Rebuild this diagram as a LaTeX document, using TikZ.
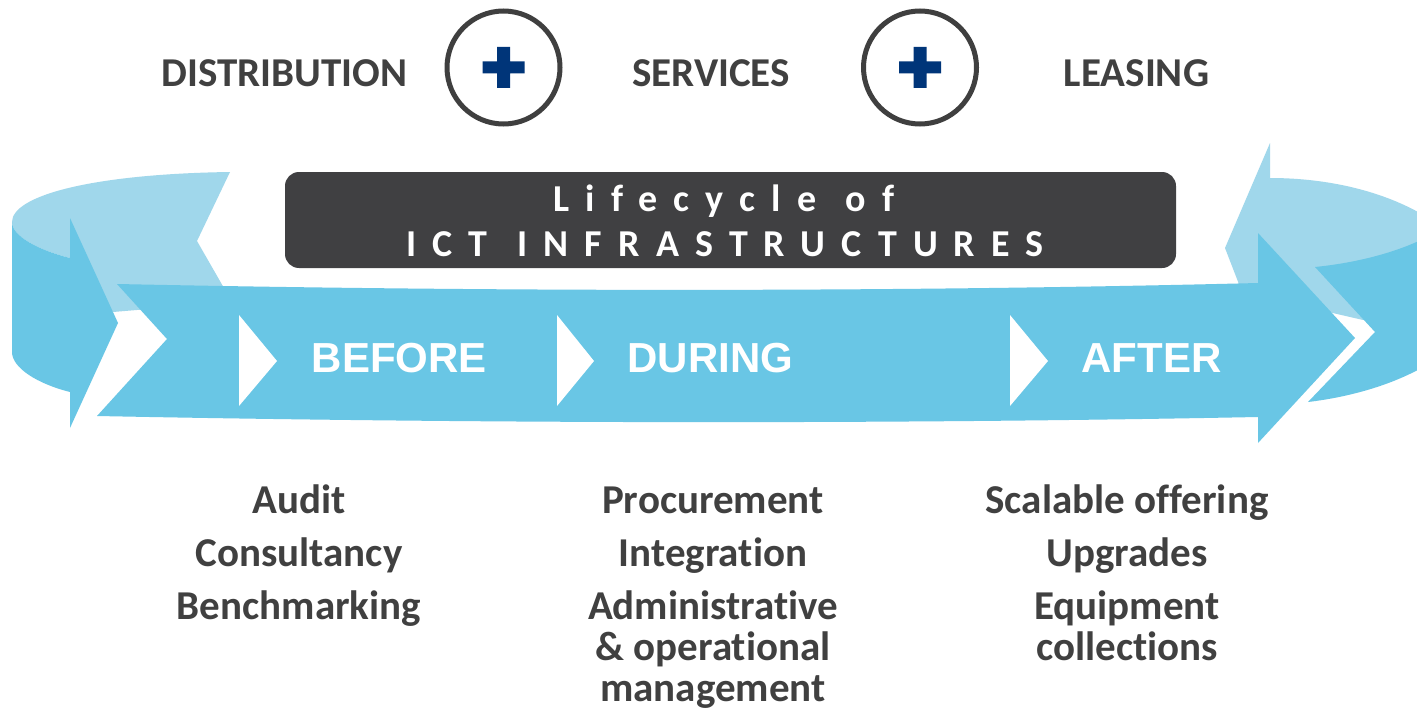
\documentclass[tikz,border=0pt]{standalone}
\usepackage{fontspec}
\setmainfont{Carlito}
\newfontfamily\itemfont[Ligatures=NoCommon]{Carlito}
\newfontfamily\trackfont[LetterSpace=42.5,Ligatures=NoCommon]{Carlito}
\newfontfamily\stagefont{Liberation Sans}

\definecolor{ribbonfront}{HTML}{69C6E5}
\definecolor{ribbonback}{HTML}{A0D7EB}
\definecolor{boxgray}{HTML}{404042}
\definecolor{inkgray}{HTML}{404040}
\definecolor{ringgray}{HTML}{3F3F3F}
\definecolor{plusblue}{HTML}{003579}

\begin{document}
\begin{tikzpicture}[x=1pt,y=-1pt,
  itemtext/.style={font=\itemfont\bfseries\fontsize{41}{48}\selectfont,
    text=inkgray, anchor=base, inner sep=0pt},
  stagetext/.style={font=\stagefont\bfseries\fontsize{42}{48}\selectfont,
    text=white, anchor=base, inner sep=0pt},
  tracktext/.style={font=\trackfont\bfseries\fontsize{38}{45}\selectfont,
    text=white, anchor=base, inner sep=0pt},
  ring/.style={circle, draw=ringgray, line width=5pt, minimum size=113pt,
    inner sep=0pt},
  chevron/.style={fill=white},
]
\clip (0,0) rectangle (1417,709);
\fill[white] (0,0) rectangle (1417,709);

% back half of the ribbon, left end (tail notch)
\fill[ribbonback] (12,222) .. controls (12,196) and (90,174) .. (230,172)
  -- (197,241) -- (232,302) -- (113,312) -- (70,258)
  .. controls (38,250) and (12,236) .. (12,222) -- cycle;
% back half of the ribbon, right end (head pointing left)
\fill[ribbonback] (1270,143) -- (1225,248) -- (1242,292) -- (1363,320)
  -- (1425,300) -- (1425,216) .. controls (1385,192) and (1330,178) .. (1270,178)
  -- cycle;

% left side of the ring, ending in an arrow head
\fill[ribbonfront] (12,222) .. controls (12,236) and (38,250) .. (70,258)
  -- (70,218) -- (118,323) -- (70,428) -- (70,392)
  .. controls (38,384) and (12,368) .. (12,352) -- cycle;
% right side of the ring, notched tail
\fill[ribbonfront] (1315,267) .. controls (1355,263) and (1395,253) .. (1425,238)
  -- (1425,366) .. controls (1392,385) and (1350,397) .. (1308,402)
  -- (1375,332) -- cycle;

% front arrow
\fill[ribbonfront] (117,284) -- (167,339) -- (97,416)
  .. controls (500,424) and (900,424) .. (1258,417)
  -- (1258,443) -- (1355,338) -- (1258,233) -- (1258,283)
  .. controls (900,292) and (500,292) .. (117,284) -- cycle;

% white chevrons on the front arrow
\fill[chevron] (239,315) -- (277,361) -- (239,406) -- cycle;
\fill[chevron] (557,315) -- (594,361) -- (557,406) -- cycle;
\fill[chevron] (1010,315) -- (1048,361) -- (1010,406) -- cycle;

\node[stagetext] (before) at (399.5,372) {BEFORE};
\node[stagetext] (during) at (710.5,372) {DURING};
\node[stagetext] (after) at (1151.5,372) {AFTER};

% title box
\fill[boxgray, rounded corners=14pt] (285,172) rectangle (1176,268);
\node[tracktext] (title1) at (724,211) {Lifecycle\hspace{5pt} of};
\node[tracktext] (title2) at (725,256) {ICT\hspace{5pt} INFRASTRUCTURES};

% offer line
\node[itemtext] (distribution) at (284.5,87) {DISTRIBUTION};
\node[itemtext] (services) at (711,87) {SERVICES};
\node[itemtext] (leasing) at (1136.5,87) {LEASING};

\node[ring] (plusA) at (503.5,67.5) {};
\node[ring] (plusB) at (920,67.5) {};
\foreach \p in {plusA,plusB}{
  \fill[plusblue, shift={(\p.center)}] (-21,-6) rectangle (21,6)
    (-6.5,-20.5) rectangle (6.5,20.5);
}

% activities per phase
\node[itemtext] (audit) at (299,513) {Audit};
\node[itemtext] (consultancy) at (299,566) {Consultancy};
\node[itemtext] (benchmarking) at (299,619) {Benchmarking};

\node[itemtext] (procurement) at (713,513) {Procurement};
\node[itemtext] (integration) at (713,566) {Integration};
\node[itemtext] (administrative) at (713,619) {Administrative};
\node[itemtext] (operational) at (713,660) {\& operational};
\node[itemtext] (management) at (713,701) {management};

\node[itemtext] (scalable) at (1127,513) {Scalable offering};
\node[itemtext] (upgrades) at (1127,566) {Upgrades};
\node[itemtext] (equipment) at (1127,619) {Equipment};
\node[itemtext] (collections) at (1127,660) {collections};
\end{tikzpicture}
\end{document}
